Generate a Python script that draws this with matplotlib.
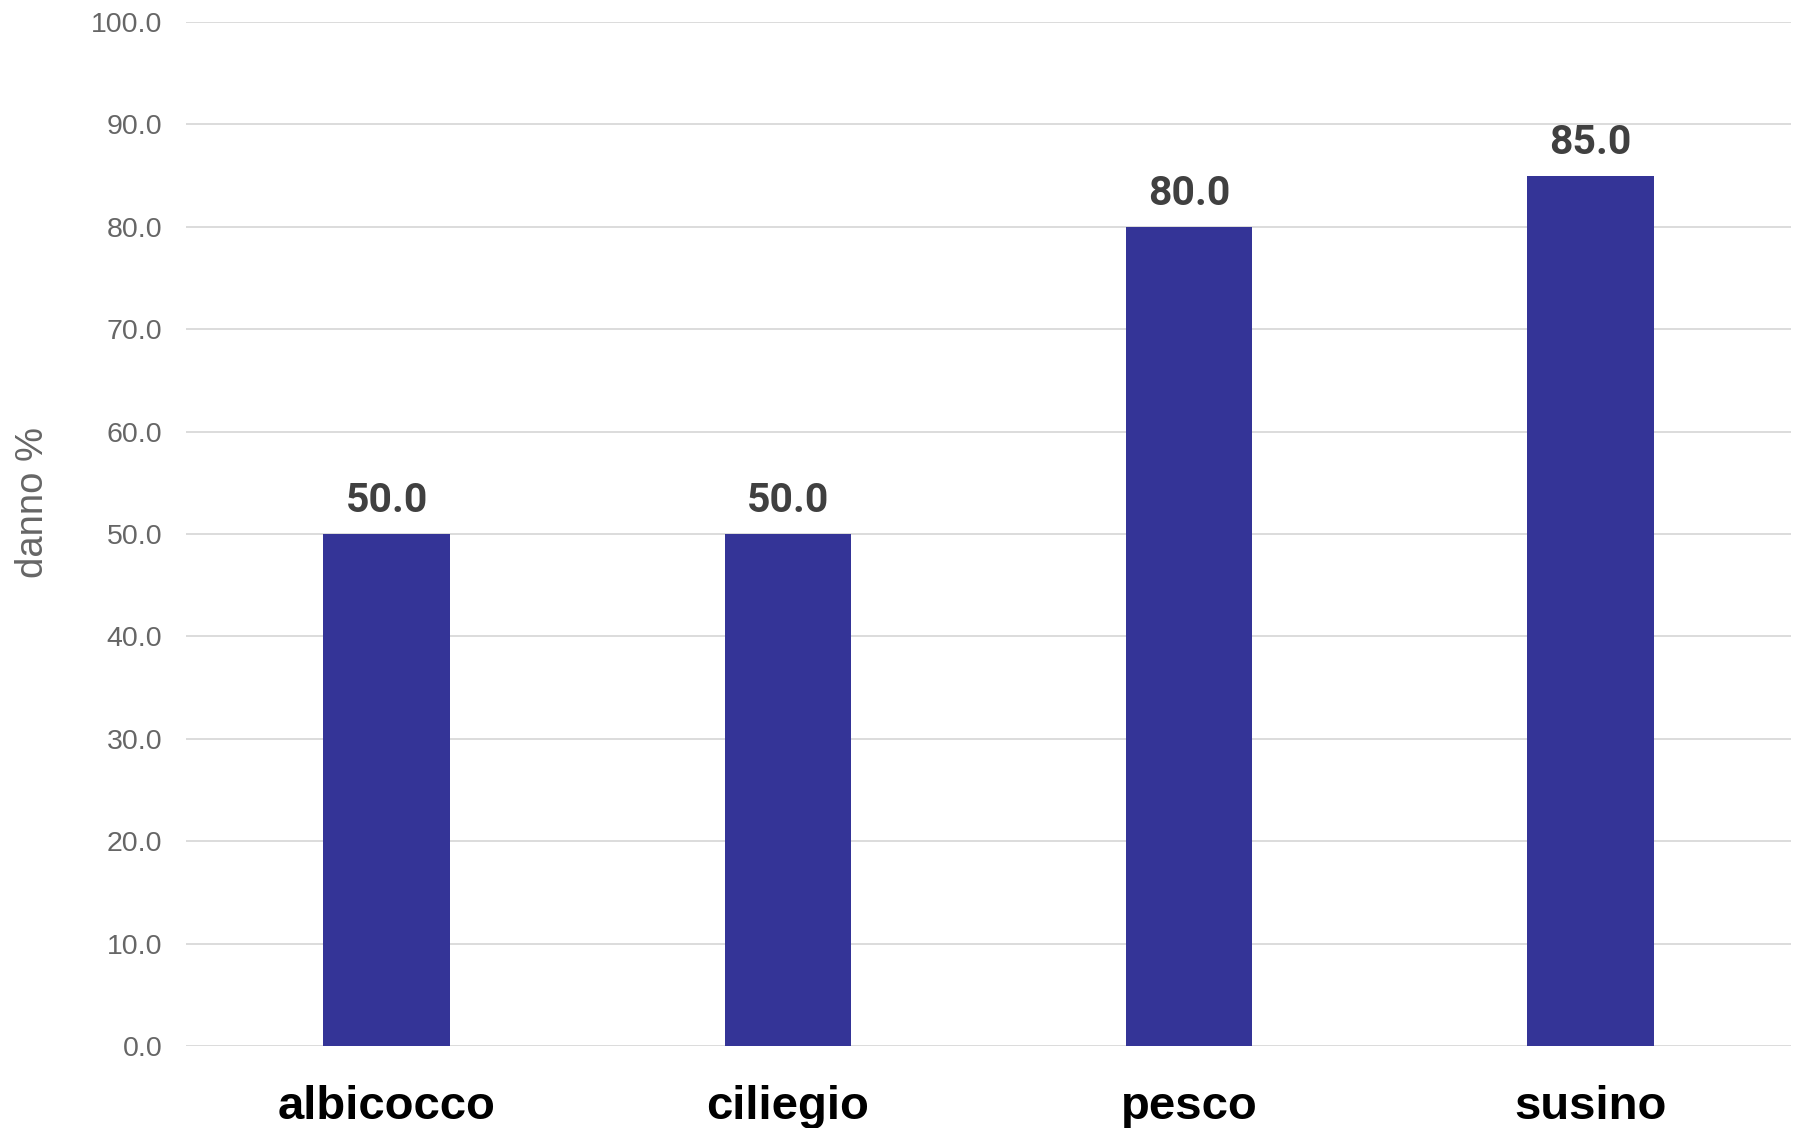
import matplotlib
matplotlib.use("Agg")
import matplotlib.pyplot as plt
import numpy as np

categories = ["albicocco", "ciliegio", "pesco", "susino"]
values = [50.0, 50.0, 80.0, 85.0]
yticks = [0, 10, 20, 30, 40, 50, 60, 70, 80, 90, 100]

bar_color = "#343497"
grid_color = "#d9d9d9"

fig = plt.figure(figsize=(18, 11.28), dpi=100)
ax = fig.add_axes([186/1800, 1 - 1046/1128, (1791-186)/1800, (1046-22)/1128])

x = np.arange(len(categories))
bars = ax.bar(x, values, width=0.315, color=bar_color, zorder=3)

ax.set_xlim(-0.5, len(categories) - 0.5)
ax.set_ylim(0, 100)
ax.set_yticks(yticks)
ax.set_yticklabels([f"{t:.1f}" for t in yticks], fontsize=20.5, color="#666666", family="Liberation Sans")
ax.tick_params(axis="y", length=0, pad=17)
ax.set_xticks(x)
ax.set_xticklabels(categories, fontsize=34, fontweight="bold", color="black", family="Liberation Sans")
ax.tick_params(axis="x", length=0, pad=28)

ax.grid(axis="y", color=grid_color, linewidth=1.3, zorder=0)
for s in ax.spines.values():
    s.set_visible(False)

for xi, v in zip(x, values):
    ax.annotate(f"{v:.1f}", (xi, v), xytext=(0, 10), textcoords="offset points",
                ha="center", va="bottom", fontsize=29.5, fontweight="bold",
                color="#404040", family="Roboto")

fig.text(33/1800, 1 - 502/1128, "danno %", rotation=90, ha="center", va="center",
         fontsize=27.5, color="#666666", family="Liberation Sans")

fig.savefig("out.png", dpi=100, facecolor="white")
